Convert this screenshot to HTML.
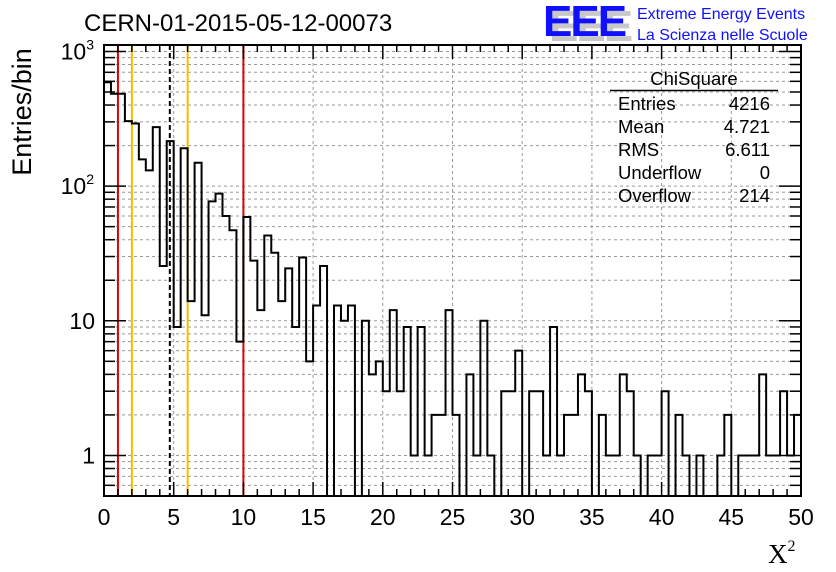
<!DOCTYPE html>
<html><head><meta charset="utf-8"><style>
body{margin:0;background:#fff;}
svg{display:block;font-family:"Liberation Sans",sans-serif;}
</style></head><body>
<svg id="c" width="836" height="572" xmlns="http://www.w3.org/2000/svg">
<text x="84" y="31" font-size="24" fill="#000">CERN-01-2015-05-12-00073</text>
<g>
<text x="549" y="41" font-size="44" font-weight="bold" fill="#c8c8c8" letter-spacing="-2">EEE</text>
<text x="543" y="36" font-size="44" font-weight="bold" fill="#1010ff" letter-spacing="-2">EEE</text>
<text x="637" y="19" font-size="16" fill="#1010ff">Extreme Energy Events</text>
<text x="637" y="40" font-size="16" fill="#1010ff">La Scienza nelle Scuole</text>
</g>
<g id="grid"></g>
<g id="hist"></g>
<g id="axes"></g>
<g font-size="18.5">
<text x="694" y="85" text-anchor="middle">ChiSquare</text>
<line x1="610" y1="90.5" x2="778" y2="90.5" stroke="#000" stroke-width="1.5"/>
<text x="618" y="110">Entries</text><text x="770" y="110" text-anchor="end">4216</text>
<text x="618" y="133">Mean</text><text x="770" y="133" text-anchor="end">4.721</text>
<text x="618" y="156">RMS</text><text x="770" y="156" text-anchor="end">6.611</text>
<text x="618" y="179">Underflow</text><text x="770" y="179" text-anchor="end">0</text>
<text x="618" y="202">Overflow</text><text x="770" y="202" text-anchor="end">214</text>
</g>
<text x="31" y="112" font-size="27" transform="rotate(-90 31 112)" text-anchor="middle">Entries/bin</text>
<text x="768" y="563" font-size="27" font-family="Liberation Serif,serif">X<tspan font-size="16" dy="-12">2</tspan></text>
</svg>
<script>
const counts=[590,485,485,304,292,158,131,274,25.5,216,9,191,14,149,11,77,88,60,47,7,59,28,12,43,32,14,24.5,9,29.5,5,13,25.5,0,13,10,13,0,10,4,5,3,12,3,9,1,9,1,2,2,12,2,0,4,1,10,1,0,3,3,6,0,3,3,1,9,1,2,2,4,3,0,2,1,1,4,3,1,0,1,1,3,0,2,1,0,1,0,0,1,2,0,1,1,1,4,1,1,3,1,2];
const xTicks=[0,5,10,15,20,25,30,35,40,45,50];
const yTickLabels=["1","10","10²","10³"];
const vLines=[[1,"#e00000",false],[2,"#f0c000",false],[4.721,"#000",true],[6,"#f0c000",false],[10,"#e00000",false]];
const X0=104,X1=801,Y0=496,Y1=45,YMIN=0.5,DEC=134.67;
const NS="http://www.w3.org/2000/svg";
function sx(v){return X0+(X1-X0)*v/50;}
function sy(v){v=Math.max(v,YMIN);return Math.max(Y1,Y0-DEC*Math.log10(v/YMIN));}
function mk(t,a,p){const e=document.createElementNS(NS,t);for(const k in a)e.setAttribute(k,a[k]);p.appendChild(e);return e;}
const grid=document.getElementById('grid'),hist=document.getElementById('hist'),axes=document.getElementById('axes');
for(const t of xTicks){if(t==0||t==50)continue;const l=mk('line',{x1:sx(t),x2:sx(t),y1:Y1,y2:Y0,stroke:'#999','stroke-dasharray':'3,3','stroke-width':1},grid);

}
for(let d=-1;d<=3;d++)for(let m=1;m<10;m++){const v=m*Math.pow(10,d);if(v<=YMIN||sy(v)<=Y1)continue;const y=sy(v);const l=mk('line',{x1:X0,x2:X1,y1:y,y2:y,stroke:'#999','stroke-dasharray':'3,3','stroke-width':1},grid);

}
for(const [v,c,d] of vLines){const l=mk('line',{x1:sx(v),x2:sx(v),y1:Y1,y2:Y0,stroke:c,'stroke-width':2,'stroke-dasharray':d?'5,3':'none'},hist);

}
let p='M'+X0+','+Y0;
counts.forEach((c,i)=>{const y=sy(c);p+=' L'+sx(i*0.5)+','+y+' L'+sx((i+1)*0.5)+','+y;});
p+=' L'+X1+','+Y0;
const h=mk('path',{d:p,fill:'none',stroke:'#000','stroke-width':2},hist);


const f=mk('rect',{x:X0,y:Y1,width:X1-X0,height:Y0-Y1,fill:'none',stroke:'#000','stroke-width':2},axes);


for(let v=0;v<=50;v++){const maj=v%5==0;const L=maj?14:7;
mk('line',{x1:sx(v),x2:sx(v),y1:Y0,y2:Y0-L,stroke:'#000','stroke-width':1.5},axes);
mk('line',{x1:sx(v),x2:sx(v),y1:Y1,y2:Y1+L,stroke:'#000','stroke-width':1.5},axes);}
xTicks.forEach(t=>{const e=mk('text',{x:sx(t),y:525,'font-size':23,'text-anchor':'middle'},axes);e.textContent=String(t);

});
for(let d=-1;d<=3;d++)for(let m=1;m<10;m++){const v=m*Math.pow(10,d);if(v<YMIN||sy(v)<=Y1)continue;const y=sy(v);const L=m==1?22:11;
mk('line',{x1:X0,x2:X0+L,y1:y,y2:y,stroke:'#000','stroke-width':1.5},axes);
mk('line',{x1:X1,x2:X1-L,y1:y,y2:y,stroke:'#000','stroke-width':1.5},axes);}
yTickLabels.forEach((t,i)=>{const y=sy(Math.pow(10,i));let e;
if(i<2){e=mk('text',{x:95,y:y+8,'font-size':23,'text-anchor':'end'},axes);e.textContent=t;}
else{e=mk('text',{x:94,y:y+8,'font-size':23,'text-anchor':'end'},axes);const s=mk('tspan',{'font-size':14,dy:-10},e);s.textContent=String(i);e.textContent='';e.appendChild(document.createTextNode('10'));e.appendChild(s);}

});
</script>
</body></html>
